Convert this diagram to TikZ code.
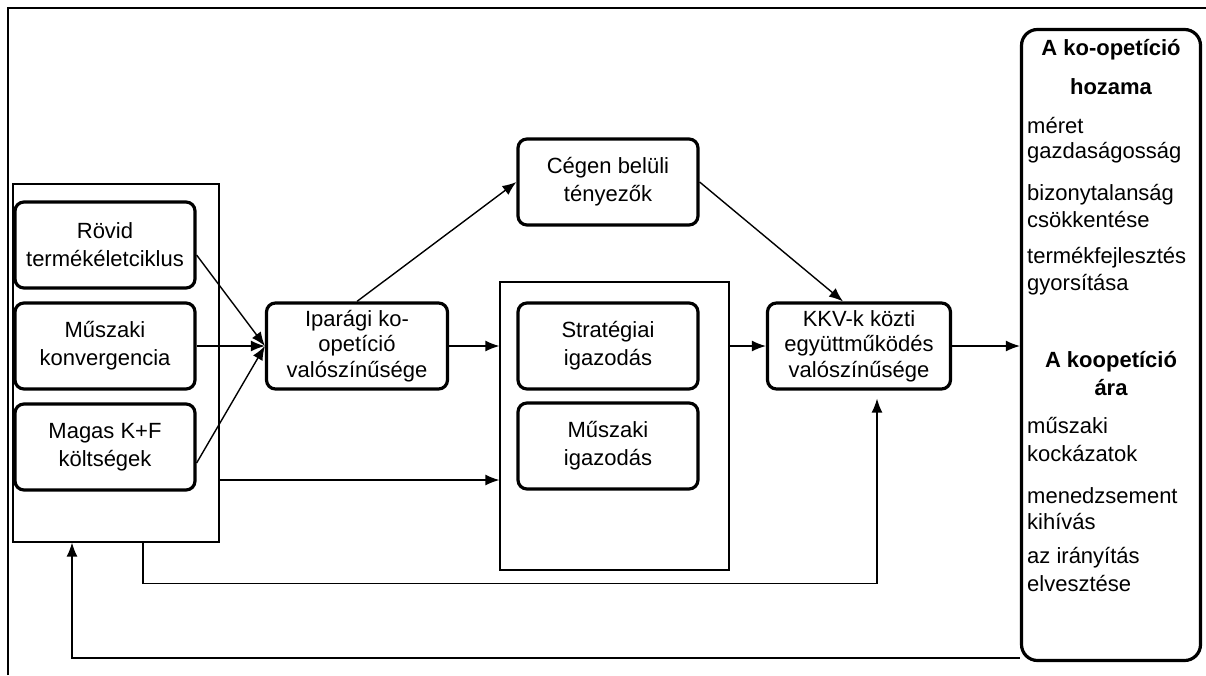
\documentclass[tikz,border=0pt]{standalone}
\usepackage{fontspec}
\setmainfont{Liberation Sans}
\usetikzlibrary{arrows.meta,calc,positioning}
\tikzset{
  factorbox/.style={draw,fill=white,line width=3.2pt,rounded corners=9pt,align=center,inner sep=0pt,minimum width=180pt,minimum height=86pt,font=\fontsize{22}{28}\selectfont},
  tightbox/.style={factorbox,font=\fontsize{22}{25.5}\selectfont},
  groupbox/.style={draw,line width=1.2pt,inner sep=0pt},
  resultbox/.style={draw,fill=white,line width=3.2pt,rounded corners=16pt,inner sep=0pt,minimum width=179pt,minimum height=631pt},
  flowarr/.style={-{Latex[length=14pt,width=11pt]},line width=1.4pt},
  itemtxt/.style={anchor=base west,inner sep=0pt,font=\fontsize{22}{27}\selectfont},
  headtxt/.style={anchor=base,inner sep=0pt,font=\bfseries\fontsize{22}{27}\selectfont}
}
\begin{document}
\begin{tikzpicture}[x=1pt,y=-1pt,>=Latex]
  \useasboundingbox (0,0) rectangle (1206,675);
  \draw[line width=2pt] (8,675) -- (8,8) -- (1206,8);

  % groups
  \node[groupbox,minimum width=206pt,minimum height=358pt] (lgrp) at (116,363) {};
  \node[groupbox,minimum width=229pt,minimum height=288pt] (mgrp) at (614.5,426) {};

  % factors
  \node[factorbox] (rovid) at (105,245) {Rövid\\termékéletciklus};
  \node[factorbox] (muszaki) at (105,346) {Műszaki\\konvergencia};
  \node[factorbox] (magas) at (105,447) {Magas K+F\\költségek};
  \node[tightbox,minimum width=181pt] (ipar) at (357,346) {Iparági ko-\\opetíció\\valószínűsége};
  \node[factorbox] (ceg) at (608,182) {Cégen belüli\\tényezők};
  \node[factorbox] (strat) at (608,346) {Stratégiai\\igazodás};
  \node[factorbox] (migaz) at (608,446) {Műszaki\\igazodás};
  \node[tightbox,minimum width=183pt] (kkv) at (859,346) {KKV-k közti\\együttműködés\\valószínűsége};

  % result box
  \node[resultbox] (hozam) at (1111,345) {};
  \node[headtxt] (h1) at (1111,55) {A ko-opetíció};
  \node[headtxt] (h2) at (1111,94) {hozama};
  \node[headtxt] (h3) at (1111,367) {A koopetíció};
  \node[headtxt] (h4) at (1111,395) {ára};
  \foreach \txt/\yy [count=\i] in {méret/133,gazdaságosság/158,bizonytalanság/200,csökkentése/227,
      termékfejlesztés/263,gyorsítása/290,műszaki/433,kockázatok/461,menedzsement/503,kihívás/529,
      az irányítás/563,elvesztése/591}
    \node[itemtxt] (it\i) at (1027,\yy) {\txt};

  % connectors
  \draw[flowarr] ([yshift=-10pt]rovid.east) -- (ipar.west);
  \draw[flowarr] (muszaki) -- (ipar);
  \draw[flowarr] ([yshift=-16pt]magas.east) -- (ipar.west);
  \draw[flowarr] (ipar.north) -- (ceg.west);
  \draw[flowarr] (ceg.east) -- ([xshift=-16pt]kkv.north);
  \draw[flowarr] (ipar.east) -- (ipar.east -| mgrp.west);
  \draw[flowarr] (strat.east -| mgrp.east) -- (kkv.west);
  \coordinate (lowrow) at (0,480);
  \draw[flowarr] (lowrow -| lgrp.east) -- (lowrow -| mgrp.west);
  \draw[flowarr] (kkv.east) -- (kkv.east -| hozam.west);
  \draw[flowarr,shorten >=8pt] ([xshift=27pt]lgrp.south) -- ++(0,41) -| ([xshift=18pt]kkv.south);
  \draw[flowarr] ([yshift=4pt]hozam.south west) -| ([xshift=-44pt]lgrp.south);
\end{tikzpicture}
\end{document}
